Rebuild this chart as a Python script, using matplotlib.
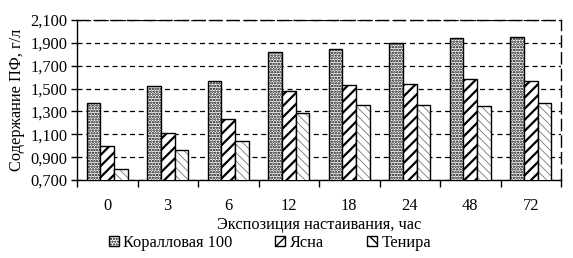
import matplotlib
matplotlib.use("Agg")
import matplotlib.pyplot as plt
import numpy as np
from matplotlib.patches import Patch
from matplotlib.ticker import FuncFormatter

categories = ["0", "3", "6", "12", "18", "24", "48", "72"]
koral = [1.37, 1.52, 1.57, 1.82, 1.85, 1.90, 1.94, 1.95]
yasna = [1.00, 1.11, 1.23, 1.48, 1.53, 1.54, 1.58, 1.57]
tenira = [0.80, 0.96, 1.04, 1.29, 1.36, 1.36, 1.35, 1.37]
series_names = ["Коралловая 100", "Ясна", "Тенира"]
yticks = [0.7, 0.9, 1.1, 1.3, 1.5, 1.7, 1.9, 2.1]

plt.rcParams['font.family'] = ['Liberation Serif', 'DejaVu Serif']
plt.rcParams['font.size'] = 11.8

fig = plt.figure(figsize=(5.73, 2.58), dpi=100)
ax = fig.add_axes([77/573, 1 - 180/258, (561-77)/573, 160/258])

x = np.arange(len(categories))
w = 0.225

plt.rcParams['hatch.linewidth'] = 1.2
b1 = ax.bar(x - w, koral, w, color='white', edgecolor='black', hatch='......', linewidth=1.0, zorder=3)
plt.rcParams['hatch.linewidth'] = 1.6
b2 = ax.bar(x, yasna, w, color='white', edgecolor='black', hatch='///', linewidth=1.0, zorder=3)
plt.rcParams['hatch.linewidth'] = 0.6
b3h = ax.bar(x + w, tenira, w, color='white', edgecolor='#777777', hatch='\\\\\\\\', linewidth=0, zorder=3)
b3 = ax.bar(x + w, tenira, w, color='none', edgecolor='black', linewidth=1.0, zorder=4)

ax.set_ylim(0.7, 2.1)
ax.set_xlim(-0.5, len(categories) - 0.5)
ax.set_yticks(yticks)
ax.yaxis.set_major_formatter(FuncFormatter(lambda v, p: f"{v:.3f}".replace('.', ',')))
ax.grid(axis='y', color='black', linestyle=(0, (4, 3)), linewidth=0.9, zorder=0)

ax.set_xticks(x)
ax.set_xticklabels(categories)
ax.set_xticks(np.arange(-0.5, len(categories)), minor=True)
ax.tick_params(axis='x', which='major', length=0, pad=13)
ax.tick_params(axis='x', which='minor', length=5, width=1, direction='out')
ax.tick_params(axis='y', length=4, width=1, direction='out', pad=3)

for s in ['top', 'right']:
    ax.spines[s].set_linestyle((0, (8, 4)))
    ax.spines[s].set_linewidth(1.0)
ax.spines['left'].set_linewidth(1.0)
ax.spines['bottom'].set_linewidth(1.0)

ax.set_xlabel("Экспозиция настаивания, час", labelpad=2)
ax.set_ylabel("Содержание ПФ, г/л", labelpad=4)

plt.rcParams['hatch.linewidth'] = 1.0
handles = [Patch(facecolor='white', edgecolor='black', hatch='......'),
           Patch(facecolor='white', edgecolor='black', hatch='///'),
           Patch(facecolor='white', edgecolor='black', hatch='\\\\\\')]
fig.legend(handles, series_names, loc='center', bbox_to_anchor=(270/573, 1 - 243/258),
           ncol=3, frameon=False, handlelength=0.6, handleheight=0.6, handletextpad=0.3,
           columnspacing=2.6, borderaxespad=0)

fig.savefig("out.png", dpi=100)
